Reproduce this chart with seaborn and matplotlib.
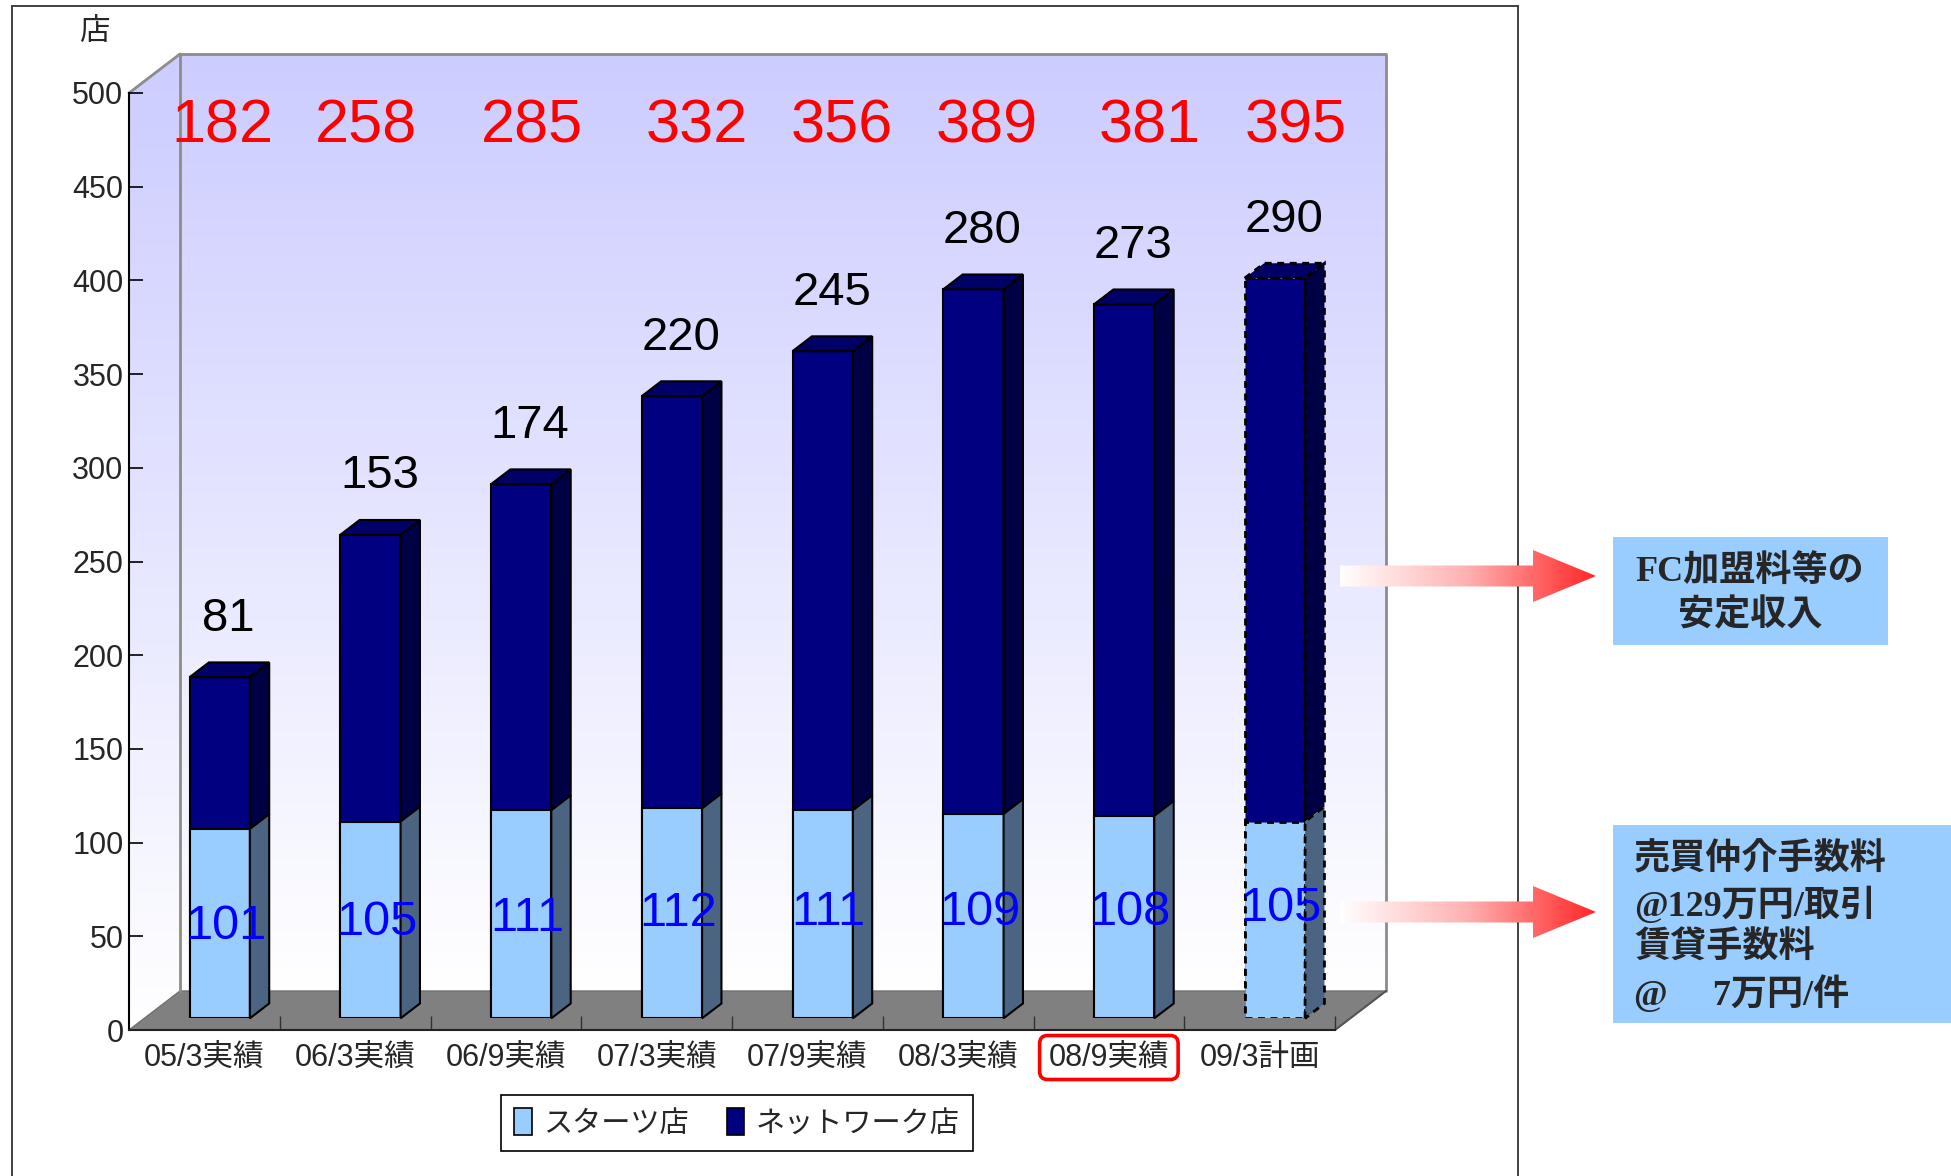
import numpy as np
import pandas as pd
import matplotlib
matplotlib.use("Agg")
import matplotlib.pyplot as plt
from matplotlib import font_manager
from matplotlib.patches import Polygon, Patch, FancyBboxPatch, Rectangle
from matplotlib.colors import LinearSegmentedColormap
import seaborn as sns

# ---------------- data ----------------
categories = ["05/3実績", "06/3実績", "06/9実績", "07/3実績",
              "07/9実績", "08/3実績", "08/9実績", "09/3計画"]
starts_stores = [101, 105, 111, 112, 111, 109, 108, 105]
network_stores = [81, 153, 174, 220, 245, 280, 273, 290]
total_stores = [182, 258, 285, 332, 356, 389, 381, 395]
y_ticks = list(range(0, 501, 50))
series_names = ["スターツ店", "ネットワーク店"]
unit_label = "店"
note_top = "FC加盟料等の\n安定収入"
note_bottom = "売買仲介手数料\n@129万円/取引\n賃貸手数料\n@\u3000 7万円/件"
highlight_index = 6
plan_index = 7

# ---------------- style ----------------
sns.set_theme(style="white")
names = {f.name for f in font_manager.fontManager.ttflist}
latin = "Liberation Sans Narrow" if "Liberation Sans Narrow" in names else "Liberation Sans"
FAM = [latin, "Noto Sans CJK JP", "DejaVu Sans"]
SERIF = ["Liberation Serif", "Noto Sans CJK JP", "DejaVu Sans"]
plt.rcParams["font.family"] = FAM

LIGHT, LIGHT_SIDE = "#99CCFF", "#4B6482"
NAVY, NAVY_SIDE, NAVY_TOP = "#000080", "#000044", "#000066"
total_label_dx = [0.12, 0.07, 0.17, 0.27, 0.23, 0.19, 0.27, 0.24]
starts_label_dy = [-1.5, -1.5, -2.5, 0, 1, 2, 2.5, 6]

W, H = 1951, 1176
fig = plt.figure(figsize=(W / 100, H / 100), dpi=100)
fig.patch.set_facecolor("white")

# plot box geometry in pixels (y measured from top)
L, R, B, T = 129, 1335, 1030, 93
DX, DY = 51, 39
FRONT, DEPTH = 0.30, 0.38


def fpos(l, t, r, b):
    return [l / W, 1 - b / H, (r - l) / W, (b - t) / H]


# ---------------- background walls ----------------
bg = fig.add_axes([0, 0, 1, 1], zorder=0)
bg.set_xlim(0, W)
bg.set_ylim(H, 0)
bg.axis("off")
wall_cmap = LinearSegmentedColormap.from_list("wall", ["#CCCCFF", "#FFFFFF"])
grad = np.linspace(0, 1, 256).reshape(-1, 1)

back = Polygon([(L + DX, T - DY), (R + DX, T - DY), (R + DX, B - DY), (L + DX, B - DY)],
               closed=True, facecolor="none", edgecolor="none")
bg.add_patch(back)
im = bg.imshow(grad, cmap=wall_cmap, extent=(L + DX, R + DX, B - DY, T - DY),
               aspect="auto", zorder=1)
im.set_clip_path(back)

side = Polygon([(L, B), (L, T), (L + DX, T - DY), (L + DX, B - DY)],
               closed=True, facecolor="none", edgecolor="none")
bg.add_patch(side)
im2 = bg.imshow(grad, cmap=wall_cmap, extent=(L, L + DX, B, T - DY),
                aspect="auto", zorder=1)
im2.set_clip_path(side)

floor = Polygon([(L, B), (R, B), (R + DX, B - DY), (L + DX, B - DY)],
                closed=True, facecolor="#808080", edgecolor="#707070", lw=1, zorder=2)
bg.add_patch(floor)
gray = dict(color="#8C8C8C", lw=2, zorder=3)
bg.plot([L + DX, L + DX, R + DX, R + DX], [B - DY, T - DY, T - DY, B - DY], **gray)
bg.plot([L, L + DX], [T, T - DY], **gray)
bg.plot([R, R + DX], [B, B - DY], color="#555555", lw=1.5, zorder=3)
bg.set_xlim(0, W)
bg.set_ylim(H, 0)

# ---------------- front axes (ticks) ----------------
ax = fig.add_axes(fpos(L, T, R, B), zorder=1)
ax.patch.set_alpha(0)
ax.set_xlim(-0.5, len(categories) - 0.5)
ax.set_ylim(0, 500)
for s in ["top", "right"]:
    ax.spines[s].set_visible(False)
ax.spines["left"].set_color("black")
ax.spines["left"].set_linewidth(1.5)
ax.spines["bottom"].set_color("#222222")
ax.spines["bottom"].set_linewidth(1.5)
ax.set_yticks(y_ticks)
ax.set_yticklabels([str(v) for v in y_ticks])
ax.set_xticks(range(len(categories)))
ax.set_xticklabels(categories)
ax.set_xticks(np.arange(0.5, len(categories)), minor=True)
ax.tick_params(axis="y", direction="in", length=10, width=1.2, color="black",
               labelsize=22, pad=4, left=True)
ax.tick_params(axis="x", which="major", length=0, labelsize=22, pad=9, bottom=True)
ax.tick_params(axis="x", which="minor", direction="in", length=10, width=1.0,
               color="#333333", bottom=True)
ax.grid(False)

# ---------------- bars (seaborn) ----------------
df = pd.DataFrame({"period": categories, "starts": starts_stores,
                   "network": network_stores, "total": total_stores})
axb = fig.add_axes(fpos(L + FRONT * DX, T - FRONT * DY, R + FRONT * DX, B - FRONT * DY),
                   zorder=2)
axb.patch.set_alpha(0)
sns.barplot(data=df, x="period", y="total", order=categories, color=NAVY,
            saturation=1, width=0.4, edgecolor="black", linewidth=1.5,
            errorbar=None, ax=axb)
sns.barplot(data=df, x="period", y="starts", order=categories, color=LIGHT,
            saturation=1, width=0.4, edgecolor="black", linewidth=1.5,
            errorbar=None, ax=axb)
axb.set_xlim(-0.5, len(categories) - 0.5)
axb.set_ylim(0, 500)
axb.axis("off")

navy_bars = axb.patches[:len(categories)]
light_bars = axb.patches[len(categories):2 * len(categories)]
ox, oy = DEPTH * DX, DEPTH * DY


def to_fig(pts):
    return [(x / W, y / H) for x, y in pts]


for i, (pn, pl) in enumerate(zip(navy_bars, light_bars)):
    x0 = pn.get_x()
    x1 = x0 + pn.get_width()
    top = pn.get_height()
    mid = pl.get_height()
    ls = (0, (2.5, 2)) if i == plan_index else "-"
    lw = 2.0 if i == plan_index else 1.5
    if i == plan_index:
        for p in (pn, pl):
            p.set_linestyle(ls)
            p.set_linewidth(lw)
    (ax0, ay0) = axb.transData.transform((x0, 0))
    (ax1, atop) = axb.transData.transform((x1, top))
    amid = axb.transData.transform((x1, mid))[1]
    polys = [
        ([(ax1, amid), (ax1, atop), (ax1 + ox, atop + oy), (ax1 + ox, amid + oy)], NAVY_SIDE),
        ([(ax1, ay0), (ax1, amid), (ax1 + ox, amid + oy), (ax1 + ox, ay0 + oy)], LIGHT_SIDE),
        ([(ax0, atop), (ax1, atop), (ax1 + ox, atop + oy), (ax0 + ox, atop + oy)], NAVY_TOP),
    ]
    for pts, col in polys:
        poly = Polygon(to_fig(pts), closed=True, transform=fig.transFigure,
                       facecolor=col, edgecolor="black", lw=lw, linestyle=ls,
                       clip_on=False, zorder=3)
        axb.add_artist(poly)

# value labels
for i, (s, n, t) in enumerate(zip(starts_stores, network_stores, total_stores)):
    ax.text(i + total_label_dx[i], 482, str(t), color="#FF0000", fontsize=44,
            ha="center", va="center", zorder=6)
    axb.annotate(str(n), xy=(i + 0.06, t), xytext=(0, 42), textcoords="offset points",
                 ha="center", va="center", fontsize=34, color="black", zorder=6)
    axb.text(i + 0.04, s / 2 + starts_label_dy[i], str(s), color="#0000FF", fontsize=35,
             ha="center", va="center", zorder=6)

# legend
handles = [Patch(facecolor=LIGHT, edgecolor="black", lw=1.2),
           Patch(facecolor=NAVY, edgecolor="black", lw=1.2)]
leg = fig.legend(handles, series_names, loc="center",
                 bbox_to_anchor=(737 / W, 1 - 1123 / H), ncol=2, frameon=True,
                 fancybox=False, edgecolor="black", fontsize=21, handlelength=0.6,
                 handleheight=1.0, handletextpad=0.4, columnspacing=1.3,
                 borderpad=0.45, framealpha=1)
leg.get_frame().set_linewidth(1.2)

# ---------------- overlay (annotations) ----------------
ov = fig.add_axes([0, 0, 1, 1], zorder=5)
ov.set_xlim(0, W)
ov.set_ylim(H, 0)
ov.axis("off")
ov.patch.set_alpha(0)

ov.text(94, 32, unit_label, fontsize=22, ha="center", va="center")

# outer frame
ov.plot([12, 12], [H, 6], color="#333333", lw=1.3)
ov.plot([12, 1518], [6, 6], color="#333333", lw=1.3)
ov.plot([1518, 1518], [6, H], color="#333333", lw=1.3)

# arrows with white-to-red gradient
arrow_cmap = LinearSegmentedColormap.from_list("arr", ["#FFFFFF", "#FFB0B0", "#FF2626"])
hgrad = np.linspace(0, 1, 256).reshape(1, -1)
for yc in (576, 912):
    xt, xb, xtip, hs, hh = 1340, 1533, 1596, 10.5, 26
    pts = [(xt, yc - hs), (xb, yc - hs), (xb, yc - hh), (xtip, yc), (xb, yc + hh),
           (xb, yc + hs), (xt, yc + hs)]
    arr = Polygon(pts, closed=True, facecolor="none", edgecolor="none")
    ov.add_patch(arr)
    aim = ov.imshow(hgrad, cmap=arrow_cmap, extent=(xt, xtip, yc + hh, yc - hh),
                    aspect="auto", zorder=2)
    aim.set_clip_path(arr)

# note boxes
ov.add_patch(Rectangle((1613, 537), 275, 108, facecolor="#99CCFF", edgecolor="none"))
ov.text(1750, 594, note_top, fontsize=26, fontweight="bold", family=SERIF,
        ha="center", va="center", linespacing=1.4)
ov.add_patch(Rectangle((1613, 825), 338, 198, facecolor="#99CCFF", edgecolor="none"))
ov.text(1634, 928, note_bottom, fontsize=26, fontweight="bold", family=SERIF,
        ha="left", va="center", linespacing=1.3)
ov.set_xlim(0, W)
ov.set_ylim(H, 0)

# highlight box around the 08/9 label
fig.canvas.draw()
bb = ax.get_xticklabels()[highlight_index].get_window_extent()
px, py = 9, 7
hb = FancyBboxPatch((bb.x0 - px, H - bb.y1 - py), bb.width + 2 * px, bb.height + 2 * py,
                    boxstyle="round,pad=0,rounding_size=8", facecolor="none",
                    edgecolor="#FF0000", lw=2.6)
ov.add_patch(hb)

fig.savefig("out.png", dpi=100)
